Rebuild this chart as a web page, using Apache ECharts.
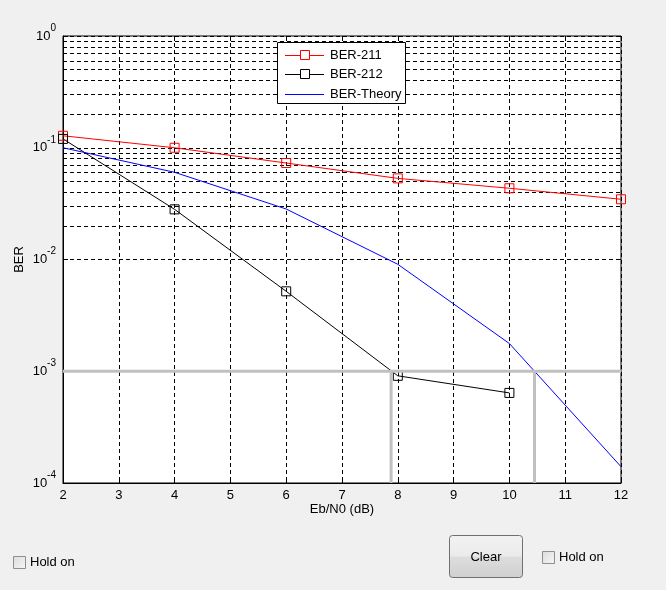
<!DOCTYPE html>
<html><head><meta charset="utf-8">
<script src="https://cdn.jsdelivr.net/npm/echarts@6/dist/echarts.min.js"></script>
<style>html,body{margin:0;padding:0;background:#f0f0f0}#c{width:666px;height:590px}</style>
</head><body><div id="c"></div>
<script>
// ---- data ----
const ebn0 = [2, 4, 6, 8, 10, 12];
const ber211 = [0.128, 0.1, 0.073, 0.0532, 0.0434, 0.0346];
const ebn0_212 = [2, 4, 6, 8, 10];
const ber212 = [0.120, 0.0281, 0.00519, 0.00091, 0.00064];
const berTheory = [0.1, 0.0603, 0.0283, 0.00906, 0.00177, 0.00014];
const refBer = 0.001;          // horizontal gray reference line
const refCross = [7.88, 10.45]; // vertical gray reference lines
const seriesNames = ['BER-211', 'BER-212', 'BER-Theory'];
const seriesColors = ['#ff0000', '#000000', '#0000ff'];
const seriesMarkers = [true, true, false];
const yDecadeExps = [-4, -3, -2, -1, 0];
const minorMultipliers = [2, 3, 4, 5, 6, 7, 8, 9];

const FONT = '"Liberation Sans", Arial, sans-serif';
const minorGrid = [];
yDecadeExps.slice(0, -1).forEach(e => minorMultipliers.forEach(m => minorGrid.push({ yAxis: m * Math.pow(10, e) })));

const chart = echarts.init(document.getElementById('c'), null, { renderer: 'canvas' });
const dash = [4, 3];
const sup = v => {
  const e = Math.round(Math.log10(v));
  return '{b|10}{s|' + e + '}';
};

// legend box (MATLAB style) drawn as graphic elements
const legendEls = [
  { type: 'rect', z: 20, shape: { x: 277.5, y: 42.5, width: 128, height: 61 },
    style: { fill: '#fff', stroke: '#000', lineWidth: 1 } }
];
seriesNames.forEach((n, i) => {
  const cy = 55 + i * 19.3;
  legendEls.push({ type: 'line', z: 21, shape: { x1: 285, y1: Math.round(cy) + 0.5, x2: 324, y2: Math.round(cy) + 0.5 },
    style: { stroke: seriesColors[i], lineWidth: 1 } });
  if (seriesMarkers[i]) {
    legendEls.push({ type: 'rect', z: 22, shape: { x: 300.5, y: Math.round(cy) - 4.5, width: 9, height: 9 },
      style: { fill: '#fff', stroke: seriesColors[i], lineWidth: 1 } });
  }
  legendEls.push({ type: 'text', z: 22, x: 330, y: cy + 0.5,
    style: { text: n, font: '13px ' + FONT, fill: '#000', align: 'left', verticalAlign: 'middle' } });
});

chart.setOption({
  backgroundColor: '#f0f0f0',
  animation: false,
  textStyle: { fontFamily: FONT },
  grid: { left: 63, right: 45, top: 36, bottom: 107, show: true, backgroundColor: '#fff', borderColor: '#000', borderWidth: 1, z: 0 },
  xAxis: [{
    type: 'value', min: 2, max: 12, interval: 1,
    name: 'Eb/N0 (dB)', nameLocation: 'middle', nameGap: 20, nameMoveOverlap: false,
    nameTextStyle: { fontFamily: FONT, fontSize: 13, color: '#000' },
    axisLine: { lineStyle: { color: '#000' } },
    axisTick: { inside: true, length: 5, lineStyle: { color: '#000' } },
    axisLabel: { fontFamily: FONT, fontSize: 13, color: '#000', margin: 6 },
    splitLine: { show: true, lineStyle: { color: '#000', type: dash } }
  }, {
    type: 'value', min: 2, max: 12, interval: 1, position: 'top',
    axisLine: { show: false }, axisLabel: { show: false },
    axisTick: { inside: true, length: 5, lineStyle: { color: '#000' } }, splitLine: { show: false }
  }],
  yAxis: [{
    type: 'log', logBase: 10, min: 1e-4, max: 1, interval: 1,
    name: 'BER', nameLocation: 'middle', nameGap: 37, nameRotate: 90, nameMoveOverlap: false,
    nameTextStyle: { fontFamily: FONT, fontSize: 13, color: '#000' },
    axisLine: { lineStyle: { color: '#000' } },
    axisTick: { inside: true, length: 5, lineStyle: { color: '#000' } },
    axisLabel: {
      margin: 7, formatter: sup,
      rich: {
        b: { fontFamily: FONT, fontSize: 13, color: '#000', lineHeight: 26, verticalAlign: 'middle' },
        s: { fontFamily: FONT, fontSize: 10, color: '#000', lineHeight: 11, verticalAlign: 'top' }
      }
    },
    splitLine: { show: true, lineStyle: { color: '#000', type: dash } }
  }, {
    type: 'log', logBase: 10, min: 1e-4, max: 1, interval: 1, position: 'right',
    axisLine: { show: false }, axisLabel: { show: false },
    axisTick: { inside: true, length: 5, lineStyle: { color: '#000' } }, splitLine: { show: false }
  }],
  series: [
    {
      name: 'minor-grid', type: 'line', data: [], silent: true, z: 1,
      markLine: { silent: true, z: 1, symbol: 'none', label: { show: false }, animation: false,
        emphasis: { disabled: true },
        lineStyle: { color: '#000', type: dash, width: 1 }, data: minorGrid }
    },
    {
      name: seriesNames[0], type: 'line', z: 3, data: ebn0.map((x, i) => [x, ber211[i]]),
      symbol: 'rect', symbolSize: 9, color: seriesColors[0],
      lineStyle: { color: seriesColors[0], width: 1 },
      itemStyle: { color: 'rgba(255,255,255,0)', borderColor: seriesColors[0], borderWidth: 1 }
    },
    {
      name: seriesNames[1], type: 'line', z: 3, data: ebn0_212.map((x, i) => [x, ber212[i]]),
      symbol: 'rect', symbolSize: 9, color: seriesColors[1],
      lineStyle: { color: seriesColors[1], width: 1 },
      itemStyle: { color: 'rgba(255,255,255,0)', borderColor: seriesColors[1], borderWidth: 1 }
    },
    {
      name: seriesNames[2], type: 'line', z: 3, data: ebn0.map((x, i) => [x, berTheory[i]]),
      symbol: 'none', color: seriesColors[2], lineStyle: { color: seriesColors[2], width: 1 }
    },
    {
      name: 'ref-h', type: 'line', z: 4, silent: true, symbol: 'none',
      data: [[2, refBer], [12, refBer]], lineStyle: { color: '#c0c0c0', width: 3 }
    },
    {
      name: 'ref-v1', type: 'line', z: 4, silent: true, symbol: 'none',
      data: [[refCross[0], 1e-4], [refCross[0], refBer]], lineStyle: { color: '#c0c0c0', width: 3 }
    },
    {
      name: 'ref-v2', type: 'line', z: 4, silent: true, symbol: 'none',
      data: [[refCross[1], 1e-4], [refCross[1], refBer]], lineStyle: { color: '#c0c0c0', width: 3 }
    }
  ],
  graphic: legendEls.concat([
    { type: 'rect', shape: { x: 449.5, y: 535.5, width: 73, height: 42, r: 3 },
      style: { fill: new echarts.graphic.LinearGradient(0, 0, 0, 1, [
        { offset: 0, color: '#f2f2f2' }, { offset: 0.48, color: '#ebebeb' },
        { offset: 0.52, color: '#dddddd' }, { offset: 1, color: '#cfcfcf' }]),
        stroke: '#707070', lineWidth: 1 } },
    { type: 'text', x: 486, y: 557, style: { text: 'Clear', font: '13px ' + FONT, fill: '#000', align: 'center', verticalAlign: 'middle' } },
    { type: 'rect', shape: { x: 542.5, y: 551.5, width: 12, height: 12 },
      style: { fill: new echarts.graphic.LinearGradient(0, 0, 1, 1, [
        { offset: 0, color: '#dcdcdc' }, { offset: 1, color: '#f6f6f6' }]), stroke: '#8e8f8f', lineWidth: 1 } },
    { type: 'text', x: 559, y: 557.5, style: { text: 'Hold on', font: '13px ' + FONT, fill: '#000', align: 'left', verticalAlign: 'middle' } },
    { type: 'rect', shape: { x: 13.5, y: 556.5, width: 12, height: 12 },
      style: { fill: new echarts.graphic.LinearGradient(0, 0, 1, 1, [
        { offset: 0, color: '#dcdcdc' }, { offset: 1, color: '#f6f6f6' }]), stroke: '#8e8f8f', lineWidth: 1 } },
    { type: 'text', x: 30, y: 562.5, style: { text: 'Hold on', font: '13px ' + FONT, fill: '#000', align: 'left', verticalAlign: 'middle' } }
  ])
});
</script></body></html>
